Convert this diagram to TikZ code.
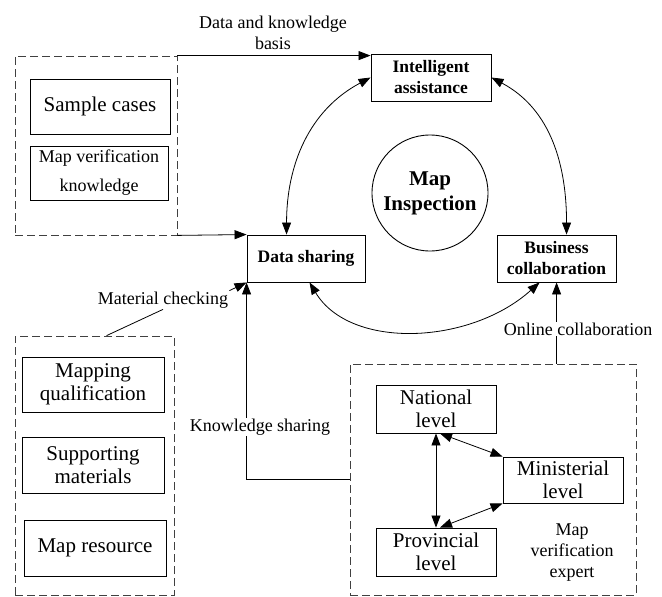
\documentclass[tikz,border=0pt]{standalone}
\usepackage{fontspec}
\setmainfont{Liberation Serif}
\newfontfamily\tnr{Liberation Serif}
\usetikzlibrary{arrows.meta}
\begin{document}
\begin{tikzpicture}[x=1pt,y=-1pt,
  box/.style={draw, line width=0.9pt, inner sep=0pt, align=center, font=\tnr\fontsize{21}{23}\selectfont},
  bbox/.style={draw, line width=0.9pt, inner sep=0pt, align=center, font=\tnr\fontsize{17.5}{21}\selectfont\bfseries},
  group/.style={draw=black!75, line width=0.8pt, dash pattern=on 8pt off 4pt, inner sep=0pt},
  lbl/.style={inner sep=1pt, align=center, font=\tnr\fontsize{18}{21}\selectfont},
  conn/.style={line width=0.8pt},
  tip/.tip={Triangle[length=12pt,width=9pt]}
]
\useasboundingbox (0,0) rectangle (662,597);
% groups
\node[group, minimum width=162pt, minimum height=179pt] (g1) at (96,145.5) {};
\node[group, minimum width=159pt, minimum height=259pt] (g2) at (94.5,465.5) {};
\node[group, minimum width=286pt, minimum height=231pt] (g3) at (493,479.5) {};
% boxes
\node[box, minimum width=140pt, minimum height=55pt] (sc) at (100,106.5) {Sample cases};
\node[box, minimum width=138pt, minimum height=54pt, font=\tnr\fontsize{18}{29}\selectfont] (mvk) at (99,173) {Map verification\\knowledge};
\node[bbox, minimum width=120pt, minimum height=47pt] (ia) at (431,77.5) {Intelligent\\assistance};
\node[draw, circle, line width=0.9pt, minimum size=116pt, inner sep=0pt, align=center, font=\tnr\fontsize{21}{25}\selectfont\bfseries] (mi) at (430,193) {Map\\Inspection};
\node[bbox, minimum width=118pt, minimum height=47pt] (ds) at (306,258.5) {Data sharing};
\node[bbox, minimum width=119pt, minimum height=47pt] (bc) at (556.5,258.5) {Business\\collaboration};
\node[box, minimum width=142pt, minimum height=55pt] (mq) at (93,384.5) {Mapping\\qualification};
\node[box, minimum width=142pt, minimum height=56pt] (sm) at (93,465) {Supporting\\materials};
\node[box, minimum width=142pt, minimum height=56pt] (mr) at (95,548) {Map resource};
\node[box, minimum width=120pt, minimum height=48pt] (nl) at (436,409) {National\\level};
\node[box, minimum width=120pt, minimum height=46pt] (ml) at (563,480) {Ministerial\\level};
\node[box, minimum width=120pt, minimum height=48pt] (pl) at (436,552) {Provincial\\level};
% labels
\node[lbl] (dkb) at (273,32.5) {Data and knowledge\\basis};
\node[lbl] (mc) at (163,300) {Material checking};
\node[lbl] (mve) at (572,553) {Map\\verification\\expert};
% connectors
\draw[conn, -tip] (g1.north east) -- (g1.north east -| ia.west);
\draw[conn, -tip] (g1.south east) -- (ds.north west);
\draw[conn, tip-tip] (ia.west) to[out=208,in=90] ([xshift=40pt]ds.north west);
\draw[conn, tip-tip] (ia.east) to[out=-28,in=90] ([xshift=70pt]bc.north west);
\draw[conn, tip-tip] ([xshift=63pt]ds.south west) .. controls (350,350) and (470,345) .. ([xshift=43pt]bc.south west);
\draw[conn] ([xshift=92pt]g2.north west) -- (mc.south);
\draw[conn, -tip] (mc.north east) -- (ds.south west);
\draw[conn, -tip] ([yshift=-116pt]g3.north west) -| (ds.south west);
\node[lbl, fill=white] (ks) at (260,427) {Knowledge sharing};
\coordinate (ocs) at ([xshift=207pt]g3.north west);
\draw[conn, -tip] (ocs) -- (ocs |- bc.south);
\node[lbl, fill=white] (oc) at (578,329) {Online collaboration};
\draw[conn, tip-tip] (nl.south) -- (pl.north);
\draw[conn, tip-tip] ([xshift=4pt]nl.south) -- (ml.north west);
\draw[conn, tip-tip] (ml.south west) -- ([xshift=4pt]pl.north);
\end{tikzpicture}
\end{document}
